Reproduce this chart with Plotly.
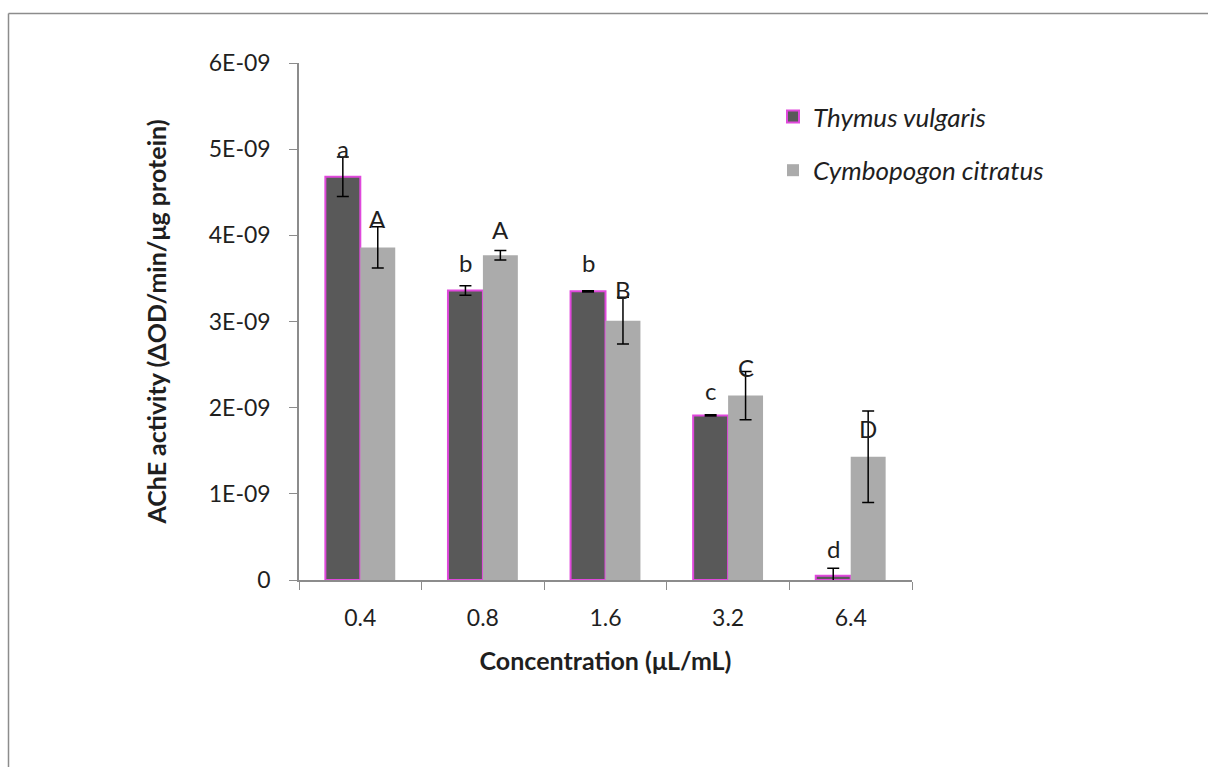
import plotly.graph_objects as go

categories = ["0.4", "0.8", "1.6", "3.2", "6.4"]
thymus = [4.68e-9, 3.36e-9, 3.35e-9, 1.91e-9, 0.05e-9]
thymus_err = [0.23e-9, 0.055e-9, 0.008e-9, 0.008e-9, 0.085e-9]
cymbo = [3.86e-9, 3.77e-9, 3.01e-9, 2.14e-9, 1.43e-9]
cymbo_err = [0.24e-9, 0.055e-9, 0.27e-9, 0.28e-9, 0.53e-9]
thymus_letters = ["a", "b", "b", "c", "d"]
thymus_letter_y = [5.01e-9, 3.69e-9, 3.69e-9, 2.20e-9, 0.37e-9]
cymbo_letters = ["A", "A", "B", "C", "D"]
cymbo_letter_y = [4.20e-9, 4.07e-9, 3.37e-9, 2.47e-9, 1.76e-9]
ytick_vals = [0, 1e-9, 2e-9, 3e-9, 4e-9, 5e-9, 6e-9]
ytick_text = ["0", "1E-09", "2E-09", "3E-09", "4E-09", "5E-09", "6E-09"]

FONT = "Lato"
TXT = "#1f1f1f"
AXC = "#8c8c8c"

W, H = 1208, 767
ML, MR, MT, MB = 299, 296, 63, 187
PW, PH = W - ML - MR, H - MT - MB

fig = go.Figure()
fig.add_trace(go.Bar(
    x=categories, y=thymus, name="<i>Thymus vulgaris</i>",
    marker=dict(color="#595959", line=dict(color="#e048dc", width=2)),
    error_y=dict(type="data", array=thymus_err, color="black", thickness=1.5, width=6),
    legendgroup="t",
))
fig.add_trace(go.Bar(
    x=categories, y=cymbo, name="<i>Cymbopogon citratus</i>",
    marker=dict(color="#ababab", line=dict(color="#ababab", width=0)),
    error_y=dict(type="data", array=cymbo_err, color="black", thickness=1.5, width=6),
    legendgroup="c",
))

bar_half = PW / len(categories) * (1 - 0.43) / 4
for i, (t, y) in enumerate(zip(thymus_letters, thymus_letter_y)):
    fig.add_annotation(x=i, y=y, text=t, showarrow=False, xshift=-bar_half,
                       font=dict(family=FONT, size=24, color=TXT))
for i, (t, y) in enumerate(zip(cymbo_letters, cymbo_letter_y)):
    fig.add_annotation(x=i, y=y, text=t, showarrow=False, xshift=bar_half,
                       font=dict(family=FONT, size=24, color=TXT))


def px2x(px):
    return (px - ML) / PW


def py2y(py):
    return (H - MB - py) / PH


# outer chart frame (top and left edges visible)
fig.add_shape(type="line", xref="paper", yref="paper",
              x0=px2x(8.5), x1=px2x(W + 5), y0=py2y(13.5), y1=py2y(13.5),
              line=dict(color="#8c8c8c", width=1.5))
fig.add_shape(type="line", xref="paper", yref="paper",
              x0=px2x(8.5), x1=px2x(8.5), y0=py2y(13.5), y1=py2y(H + 5),
              line=dict(color="#8c8c8c", width=1.5))

fig.update_layout(
    width=W, height=H,
    margin=dict(l=ML, r=MR, t=MT, b=MB, autoexpand=False),
    paper_bgcolor="white", plot_bgcolor="white",
    barmode="group", bargap=0.43, bargroupgap=0,
    font=dict(family=FONT, size=23, color=TXT),
    showlegend=True,
    legend=dict(x=px2x(773), y=py2y(93), xanchor="left", yanchor="top",
                font=dict(family=FONT, size=26, color=TXT),
                traceorder="grouped", tracegroupgap=17,
                bgcolor="rgba(0,0,0,0)"),
    xaxis=dict(
        type="category",
        showline=True, linecolor=AXC, linewidth=1.5,
        ticks="outside", tickcolor=AXC, ticklen=8, tickson="boundaries",
        showgrid=False, zeroline=False,
        tickfont=dict(family=FONT, size=23, color=TXT),
        ticklabelstandoff=17,
        title=dict(text="<b>Concentration (μL/mL)</b>", standoff=22,
                   font=dict(family=FONT, size=25, color=TXT)),
    ),
    yaxis=dict(
        range=[0, 6e-9],
        tickvals=ytick_vals, ticktext=ytick_text,
        showline=True, linecolor=AXC, linewidth=1.5,
        ticks="outside", tickcolor=AXC, ticklen=8,
        showgrid=False, zeroline=False,
        tickfont=dict(family=FONT, size=23, color=TXT),
        ticklabelstandoff=14,
        title=dict(text="<b>AChE activity (ΔOD/min/μg protein)</b>", standoff=35,
                   font=dict(family=FONT, size=25, color=TXT)),
    ),
)

fig.write_html("out.html",
               config={"displayModeBar": False},
               post_script="document.body.style.margin='0px';document.body.style.overflow='hidden';")
